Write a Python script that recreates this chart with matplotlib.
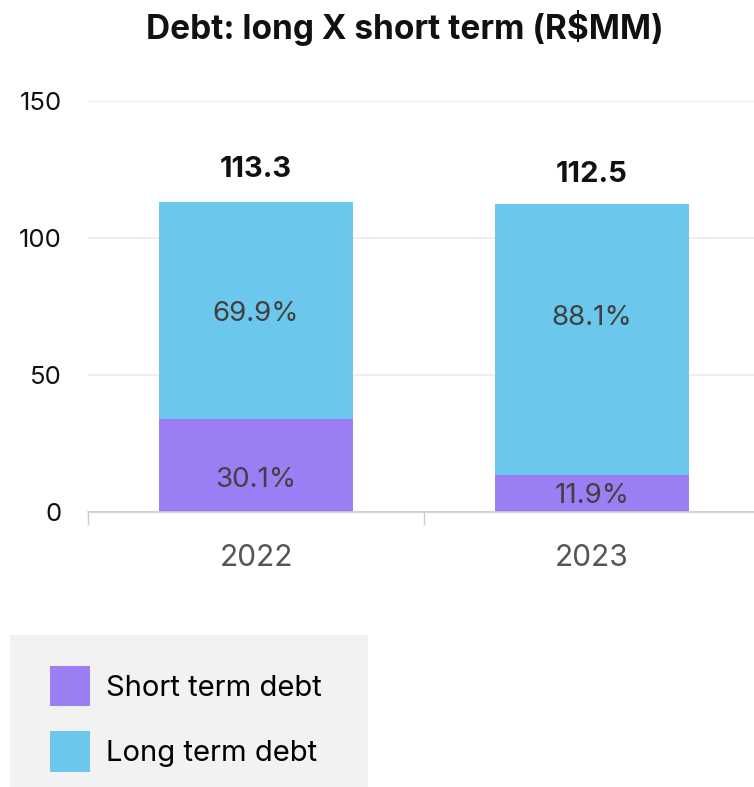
import matplotlib
matplotlib.use("Agg")
import matplotlib.pyplot as plt
from matplotlib.patches import Rectangle
import numpy as np

plt.rcParams['font.family'] = ['Inter', 'DejaVu Sans']

years = ["2022", "2023"]
totals = [113.3, 112.5]
short_pct = [30.1, 11.9]
long_pct = [69.9, 88.1]
short_vals = [t * s / 100 for t, s in zip(totals, short_pct)]
long_vals = [t * l / 100 for t, l in zip(totals, long_pct)]
series_names = ["Short term debt", "Long term debt"]
colors = ["#9B7EF3", "#6BC8EC"]

# label anchor placement (fraction of each segment), as in the reference
short_label_frac = [0.34, 0.44]
long_label_frac = [0.48, 0.58]
total_label_offset = [11.7, 10.6]

W, H = 754, 787
fig = plt.figure(figsize=(W / 100, H / 100), dpi=100)
ax = fig.add_axes([88 / W, 1 - 512 / H, (760 - 88) / W, (512 - 101) / H])

x = np.arange(len(years))
bw = 0.575
b1 = ax.bar(x, short_vals, bw, color=colors[0], label=series_names[0], zorder=3)
b2 = ax.bar(x, long_vals, bw, bottom=short_vals, color=colors[1], label=series_names[1], zorder=3)

for i in range(len(years)):
    ax.text(x[i], short_vals[i] * short_label_frac[i], f"{short_pct[i]:.1f}%", ha='center', va='center',
            fontsize=20, color='#404040', zorder=4)
    ax.text(x[i], short_vals[i] + long_vals[i] * long_label_frac[i], f"{long_pct[i]:.1f}%",
            ha='center', va='center', fontsize=20, color='#404040', zorder=4)
    ax.text(x[i], totals[i] + total_label_offset[i], f"{totals[i]:.1f}", ha='center', va='center',
            fontsize=21, fontweight='bold', color='#111111', zorder=4)

ax.set_xlim(-0.5, 1.5)
ax.set_ylim(0, 150)
ax.set_yticks([0, 50, 100, 150])
ax.set_xticks(x)
ax.set_xticklabels(years)
ax.set_xticks([-0.5, 0.5, 1.5], minor=True)
ax.tick_params(axis='x', which='major', length=0, labelsize=21.5, labelcolor='#555555', pad=23)
ax.tick_params(axis='x', which='minor', length=9, color='#CCCCCC', width=1)
ax.tick_params(axis='y', length=0, labelsize=18.5, labelcolor='#111111', pad=19)
ax.grid(axis='y', color='#EBEBEB', linewidth=1.2, zorder=0)
for s in ['top', 'right', 'left']:
    ax.spines[s].set_visible(False)
ax.spines['bottom'].set_color('#CCCCCC')
ax.spines['bottom'].set_linewidth(1.2)
ax.spines['bottom'].set_zorder(5)

fig.text(405 / W, 1 - 28 / H, "Debt: long X short term (R$MM)", ha='center', va='center',
         fontsize=24, fontweight='bold', color='#111111')

# legend background
fig.add_artist(Rectangle((10 / W, 0), (368 - 10) / W, (787 - 635) / H, transform=fig.transFigure,
                         facecolor='#F2F2F2', edgecolor='none', zorder=0))
leg = fig.legend(handles=[b1, b2], labels=series_names, loc='upper left',
                 bbox_to_anchor=(50 / W, 1 - 666 / H), frameon=False, fontsize=21,
                 handlelength=1.38, handleheight=1.745, handletextpad=0.55, labelspacing=0.86,
                 borderpad=0, borderaxespad=0)

fig.savefig("out.png", dpi=100)
